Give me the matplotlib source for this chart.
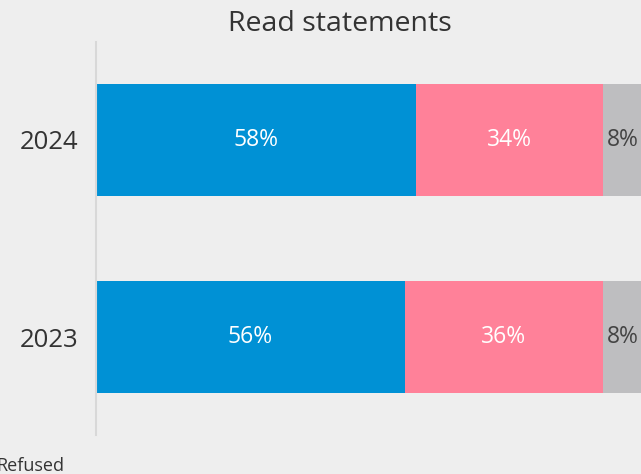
import matplotlib
matplotlib.use("Agg")
import matplotlib.pyplot as plt

plt.rcParams['font.family'] = ['Open Sans', 'DejaVu Sans']

years = ["2023", "2024"]
series_names = ["Yes", "No", "Refused"]
yes_vals = [56, 58]
no_vals = [36, 34]
refused_vals = [8, 8]
colors = ["#0091D5", "#FF8199", "#BEBEC0"]
label_colors = ["white", "white", "#444444"]

fig = plt.figure(figsize=(6.41, 4.74), dpi=100)
fig.patch.set_facecolor("#EEEEEE")
ax = fig.add_axes([96/641, 1-435/474, (647-96)/641, (435-42)/474])
ax.set_facecolor("#EEEEEE")

ypos = list(range(len(years)))
left = [0]*len(years)
for vals, c, lc in zip([yes_vals, no_vals, refused_vals], colors, label_colors):
    ax.barh(ypos, vals, left=left, height=0.57, color=c, edgecolor='none')
    for y, v, l in zip(ypos, vals, left):
        if lc == "white":
            ax.text(l + v/2, y, f"{v}%", ha='center', va='center', color=lc, fontsize=16.5)
        else:
            ax.text(l + 0.8, y, f"{v}%", ha='left', va='center', color=lc, fontsize=16.5)
    left = [a+b for a, b in zip(left, vals)]

ax.set_xlim(0, 100)
ax.set_ylim(-0.497, 1.497)
ax.set_yticks(ypos)
ax.set_yticklabels(years, fontsize=18.5, color="#333333")
ax.tick_params(axis='y', length=0, pad=13)
ax.set_xticks([])
for s in ['top', 'right', 'bottom']:
    ax.spines[s].set_visible(False)
ax.spines['left'].set_color("#D8D8D8")
ax.spines['left'].set_linewidth(1.5)

fig.text(340/641, 1-24/474, "Read statements", ha='center', va='center', fontsize=20.5, color="#333333")
fig.text(-4/641, 1-466/474, "Refused", ha='left', va='center', fontsize=13, color="#333333")

fig.savefig("out.png", dpi=100, facecolor=fig.get_facecolor())
